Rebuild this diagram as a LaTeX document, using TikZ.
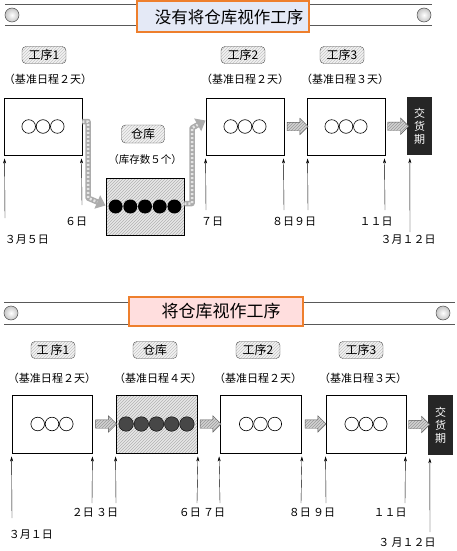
\documentclass[tikz,border=0pt]{standalone}
\usepackage{fontspec}
\setmainfont{Noto Sans CJK SC}
\usetikzlibrary{patterns,shapes.arrows,arrows.meta,calc}
\definecolor{orng}{HTML}{EE7F2D}
\definecolor{bluefill}{HTML}{E4E9F6}
\definecolor{pinkfill}{HTML}{FFDEDE}
\begin{document}
\begin{tikzpicture}[x=1pt,y=-1pt,
  box/.style={draw, line width=0.9pt, minimum width=78pt, minimum height=57pt, inner sep=0pt, fill=white},
  whbox/.style={draw, line width=0.9pt, minimum width=78pt, minimum height=57pt, inner sep=0pt,
    preaction={fill=gray!18}, pattern=north east lines, pattern color=gray!60},
  tag/.style={draw=black!70, rounded corners=4pt, preaction={fill=gray!10}, pattern=north east lines,
    pattern color=gray!45, minimum width=44pt, minimum height=17pt, inner sep=1pt, font=\fontsize{12}{12}\selectfont},
  due/.style={fill=black!85, text=white, minimum width=25pt, minimum height=58pt, inner sep=0pt, align=center,
    font=\fontsize{11}{13}\selectfont},
  fat/.style={single arrow, draw=black!65, preaction={fill=gray!35}, pattern=north east lines, pattern color=gray!80,
    single arrow head extend=4pt, inner xsep=0pt, inner ysep=0pt, minimum height=21pt},
  tl/.style={-{Stealth[length=5pt,width=3pt]}, line width=0.4pt, shorten >=3pt},
  lbl/.style={font=\fontsize{11}{12}\selectfont, inner sep=0pt},
  sched/.style={font=\fontsize{11}{12}\selectfont, inner sep=0pt},
  title/.style={draw=orng, line width=2pt, inner sep=0pt},
  bannerline/.style={draw=black!65, line width=1pt},
  knob/.style={draw=black!70, line width=0.5pt, circle, minimum size=14pt, inner sep=0pt,
    shading=radial, inner color=white, outer color=gray!45},
  chainbase/.style={line width=5.5pt, draw=gray!65, line join=round, -{Triangle[length=9pt,width=14pt]}},
  chaintop/.style={line width=2.5pt, draw=gray!20, line join=round, dash pattern=on 2pt off 2pt, shorten >=9pt}
]
\useasboundingbox (0,0) rectangle (457,551);

% ================= TOP =================
\draw[bannerline] (5,5) -- (432,5);
\draw[bannerline] (5,26) -- (432,26);
\node[knob] (k1) at (12,15) {};
\node[knob] (k2) at (424,15) {};
\node[title, fill=bluefill, minimum width=172pt, minimum height=31pt, font=\fontsize{16.5}{17}\selectfont] (t1) at (223,17) {\hspace*{12pt}没有将仓库视作工序};

\node[tag] (g1) at (44,55) {工序1};
\node[tag] (g2) at (243,55) {工序2};
\node[tag] (g3) at (342,55) {工序3};
\node[sched] (s1) at (48,79) {（基准日程２天）};
\node[sched] (s2) at (245,79) {（基准日程２天）};
\node[sched] (s3) at (345,79) {（基准日程３天）};

\node[box] (b1) at (43,126.5) {};
\node[box] (b2) at (245,126.5) {};
\node[box] (b3) at (346,126.5) {};
\node[due] (d) at (419.5,126) {交\\货\\期};

\node[tag, minimum width=43pt, minimum height=18pt] (gw) at (143,134) {仓库};
\node[sched, font=\fontsize{10.5}{12}\selectfont] (sw) at (145,160) {（库存数５个）};
\node[whbox] (w) at (145,206.5) {};

\foreach \c in {b1,b2,b3}
  \foreach \dx in {-14.3,0,14.3}
    \draw[line width=0.6pt] ($(\c.center)+(\dx,0)$) circle (6.8);
\foreach \i in {0,...,4}
  \fill ($(w.center)+(-29.4+14.7*\i,0)$) circle (7);

\path (b2.east) -- (b3.west) node[fat, midway] (a23) {\rule{0pt}{8pt}};
\path (b3.east) -- (d.west) node[fat, midway] (a3d) {\rule{0pt}{8pt}};

% chain connectors
\coordinate (c1) at (88,121.5);
\coordinate (c2) at (88,198);
\coordinate (c3) at (192,203.5);
\coordinate (c4) at (192,128);
\draw[chainbase] ([yshift=5pt]b1.east) -- (c1) -- (c2) -- ([yshift=1pt]w.west);
\draw[chaintop] ([yshift=5pt]b1.east) -- (c1) -- (c2) -- ([yshift=1pt]w.west);
\draw[chainbase] ([yshift=3pt]w.east) -- (c3) -- (c4) -- ([yshift=6pt]b2.west);
\draw[chaintop] ([yshift=3pt]w.east) -- (c3) -- (c4) -- ([yshift=6pt]b2.west);

% timeline
\coordinate (p1) at (5,218);
\coordinate (p2) at (82,205);
\coordinate (p3) at (206,210);
\coordinate (p4) at (284,210);
\coordinate (p5) at (308,210);
\coordinate (p6) at (385,210);
\coordinate (p7) at (410,232);
\draw[tl] (p1) -- ([xshift=1pt]b1.south west);
\draw[tl] (p2) -- ([xshift=-1pt]b1.south east);
\draw[tl] (p3) -- (b2.south west);
\draw[tl] (p4) -- ([xshift=-1pt]b2.south east);
\draw[tl] (p5) -- ([xshift=1pt]b3.south west);
\draw[tl] (p6) -- ([xshift=-1pt]b3.south east);
\draw[tl] (p7) -- ([xshift=3pt]d.south west);
\node[lbl] (l1) at (27,240) {３月５日};
\node[lbl] (l2) at (76,222) {６日};
\node[lbl] (l3) at (212,222) {７日};
\node[lbl] (l4) at (294,222) {８日９日};
\node[lbl] (l5) at (376,222) {１１日};
\node[lbl] (l6) at (408,240) {３月１２日};

% ================= BOTTOM =================
\draw[bannerline] (4,302) -- (455,302);
\draw[bannerline] (4,324) -- (455,324);
\node[knob] (k3) at (11,313) {};
\node[knob] (k4) at (443,313) {};
\node[title, fill=pinkfill, minimum width=174pt, minimum height=29pt, font=\fontsize{17}{18}\selectfont] (t2) at (216,311.5) {\hspace*{10pt}将仓库视作工序};

\node[tag] (G1) at (53,350) {工\,序1};
\node[tag] (GW) at (155,350) {仓库};
\node[tag] (G2) at (258,350) {工序2};
\node[tag] (G3) at (361,350) {工序3};
\node[sched] (S1) at (52,378) {（基准日程２天）};
\node[sched] (SW) at (158,378) {（基准日程４天）};
\node[sched] (S2) at (258,378) {（基准日程２天）};
\node[sched] (S3) at (363,378) {（基准日程３天）};

\node[box, minimum width=80pt, minimum height=58pt] (B1) at (52,424) {};
\node[whbox, minimum width=81pt, minimum height=58pt] (W) at (156.5,424) {};
\node[box, minimum width=81pt, minimum height=58pt] (B2) at (260.5,424) {};
\node[box, minimum width=80pt, minimum height=58pt] (B3) at (366,424) {};
\node[due, minimum height=60pt] (D) at (440.5,425) {交\\货\\期};

\foreach \c in {B1,B2,B3}
  \foreach \dx in {-14.3,0,14.3}
    \draw[line width=0.6pt] ($(\c.center)+(\dx,0)$) circle (6.8);
\foreach \i in {0,...,4}
  \draw[fill=black!72, line width=0.4pt] ($(W.center)+(-30.4+15.2*\i,0)$) circle (7.3);

\path (B1.east) -- (W.west) node[fat, midway] (A1) {\rule{0pt}{8pt}};
\path (W.east) -- (B2.west) node[fat, midway] (A2) {\rule{0pt}{8pt}};
\path (B2.east) -- (B3.west) node[fat, midway] (A3) {\rule{0pt}{8pt}};
\path (B3.east) -- (D.west) node[fat, midway] (A4) {\rule{0pt}{8pt}};

\coordinate (q1) at (12,518);
\coordinate (q2) at (92,503);
\coordinate (q3) at (116,503);
\coordinate (q4) at (197,503);
\coordinate (q5) at (220,503);
\coordinate (q6) at (301,503);
\coordinate (q7) at (326,503);
\coordinate (q8) at (405,503);
\coordinate (q9) at (430,532);
\draw[tl] (q1) -- (B1.south west);
\draw[tl] (q2) -- (B1.south east);
\draw[tl] (q3) -- (W.south west);
\draw[tl] (q4) -- ([xshift=0.5pt]W.south east);
\draw[tl] (q5) -- ([xshift=-0.5pt]B2.south west);
\draw[tl] (q6) -- ([xshift=0.5pt]B2.south east);
\draw[tl] (q7) -- (B3.south west);
\draw[tl] (q8) -- ([xshift=-1pt]B3.south east);
\draw[tl] (q9) -- ([xshift=2pt]D.south west);
\node[lbl] (L1) at (31,535) {３月１日};
\node[lbl] (L2) at (95,513) {２日 ３日};
\node[lbl] (L3) at (202,513) {６日 ７日};
\node[lbl] (L4) at (312,513) {８日 ９日};
\node[lbl] (L5) at (390,513) {１１日};
\node[lbl] (L6) at (407,543) {３ 月１２日};
\end{tikzpicture}
\end{document}
